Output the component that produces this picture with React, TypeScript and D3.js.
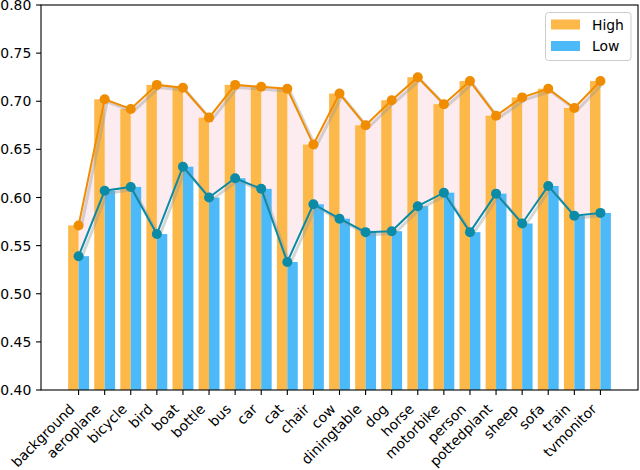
import * as d3 from "d3";

const categories = [
  "background", "aeroplane", "bicycle", "bird", "boat", "bottle", "bus", "car",
  "cat", "chair", "cow", "diningtable", "dog", "horse", "motorbike", "person",
  "pottedplant", "sheep", "sofa", "train", "tvmonitor",
];
const highValues = [
  0.571, 0.702, 0.692, 0.717, 0.714, 0.683, 0.717, 0.715, 0.713, 0.655, 0.708,
  0.675, 0.701, 0.725, 0.697, 0.721, 0.685, 0.704, 0.713, 0.693, 0.721,
];
const lowValues = [
  0.539, 0.607, 0.611, 0.562, 0.632, 0.600, 0.620, 0.609, 0.533, 0.593, 0.578,
  0.564, 0.565, 0.591, 0.605, 0.564, 0.604, 0.573, 0.612, 0.581, 0.584,
];
const yTicks = [0.4, 0.45, 0.5, 0.55, 0.6, 0.65, 0.7, 0.75, 0.8];
const seriesNames = ["High", "Low"];

const W = 640;
const H = 470;
const left = 41;
const right = 638;
const top = 5;
const bottom = 390;
const barW = 0.4;
const font = "'DejaVu Sans', sans-serif";

const barColors = ["#FDB84A", "#4CB9F9"];
const lineColors = ["#F08C00", "#0B8BA6"];

export default function App() {
  const x = d3.scaleLinear().domain([-1.44, 21.44]).range([left, right]);
  const y = d3.scaleLinear().domain([0.4, 0.8]).range([bottom, top]);
  const idx = categories.map((_, i) => i);

  const area = d3
    .area<number>()
    .x((i) => x(i))
    .y0((i) => y(lowValues[i]))
    .y1((i) => y(highValues[i]));
  const lineFor = (vals: number[]) =>
    d3
      .line<number>()
      .x((i) => x(i))
      .y((i) => y(vals[i]))(idx) || "";

  const series = [highValues, lowValues];

  return (
    <svg
      width={W}
      height={H}
      style={{ position: "absolute", left: 0, top: 0, background: "#fff" }}
      fontFamily={font}
    >
      <path d={area(idx) || ""} fill="#FDECEF" />
      {idx.map((i) => (
        <g key={i}>
          <rect
            x={x(i - barW)}
            y={y(highValues[i])}
            width={x(0) - x(-barW)}
            height={bottom - y(highValues[i])}
            fill={barColors[0]}
          />
          <rect
            x={x(i)}
            y={y(lowValues[i])}
            width={x(barW) - x(0)}
            height={bottom - y(lowValues[i])}
            fill={barColors[1]}
          />
        </g>
      ))}
      {series.map((vals, s) => (
        <g key={s}>
          <path
            d={lineFor(vals)}
            transform="translate(2.5,2.5)"
            fill="none"
            stroke="#999"
            strokeOpacity={0.4}
            strokeWidth={3}
          />
          <path d={lineFor(vals)} fill="none" stroke={lineColors[s]} strokeWidth={2} />
          {idx.map((i) => (
            <circle key={i} cx={x(i)} cy={y(vals[i])} r={5} fill={lineColors[s]} />
          ))}
        </g>
      ))}
      <rect
        x={left}
        y={top}
        width={right - left}
        height={bottom - top}
        fill="none"
        stroke="#000"
        strokeWidth={1.1}
      />
      {yTicks.map((t) => (
        <g key={t}>
          <line x1={left - 4.9} x2={left} y1={y(t)} y2={y(t)} stroke="#000" strokeWidth={1.1} />
          <text
            x={left - 9.7}
            y={y(t)}
            dy="0.36em"
            textAnchor="end"
            fontSize={13.9}
          >
            {t.toFixed(2)}
          </text>
        </g>
      ))}
      {categories.map((c, i) => (
        <g key={c}>
          <line x1={x(i)} x2={x(i)} y1={bottom} y2={bottom + 4.9} stroke="#000" strokeWidth={1.1} />
          <text
            transform={`translate(${x(i) - 3},${bottom + 20}) rotate(-45)`}
            textAnchor="end"
            fontSize={13.9}
          >
            {c}
          </text>
        </g>
      ))}
      <g>
        <rect
          x={545.5}
          y={12.5}
          width={85.5}
          height={48}
          rx={3}
          fill="#fff"
          fillOpacity={0.8}
          stroke="#ccc"
          strokeWidth={1}
        />
        {seriesNames.map((n, s) => (
          <g key={n}>
            <rect x={551} y={19.5 + s * 21.5} width={29} height={10} fill={barColors[s]} />
            <text x={592} y={29.5 + s * 21.5} fontSize={13.9}>
              {n}
            </text>
          </g>
        ))}
      </g>
    </svg>
  );
}
